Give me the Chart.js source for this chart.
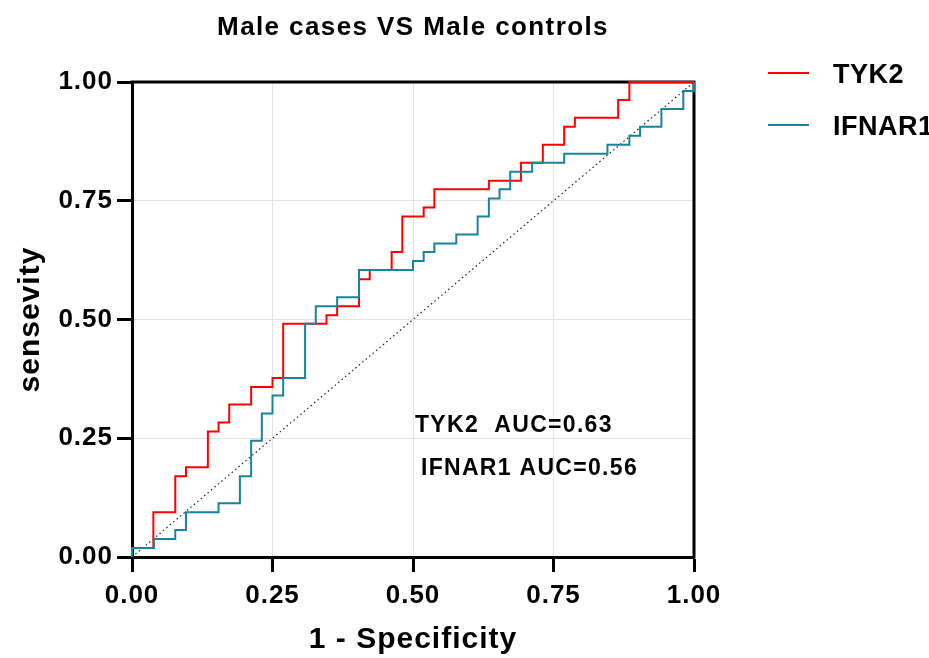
<!DOCTYPE html>
<html>
<head>
<meta charset="utf-8">
<script src="https://cdn.jsdelivr.net/npm/chart.js@4.4.1/dist/chart.umd.min.js"></script>
<style>
  html, body { margin: 0; padding: 0; background: #ffffff; }
  #wrap { width: 929px; height: 658px; position: relative; }
</style>
</head>
<body>
<div id="wrap"><canvas id="c" width="929" height="658"></canvas></div>
<script>
// ---- data ----
const chartTitle = 'Male cases VS Male controls';
const xAxisTitle = '1 - Specificity';
const yAxisTitle = 'sensevity';
const seriesNames = ['TYK2', 'IFNAR1'];
const seriesColors = ['#ff0000', '#17849c'];
const aucLabels = ['TYK2  AUC=0.63', 'IFNAR1 AUC=0.56'];
const tickLabels = ['0.00', '0.25', '0.50', '0.75', '1.00'];

const tyk2X = [0, 0, 0.038, 0.077, 0.096, 0.135, 0.154, 0.173, 0.212, 0.25, 0.269, 0.346, 0.365, 0.404, 0.423, 0.462, 0.481, 0.519, 0.538, 0.635, 0.692, 0.731, 0.769, 0.788, 0.865, 0.885, 1.0];
const tyk2Y = [0, 0.019, 0.094, 0.17, 0.189, 0.264, 0.283, 0.321, 0.358, 0.377, 0.491, 0.509, 0.528, 0.585, 0.604, 0.642, 0.717, 0.736, 0.774, 0.792, 0.83, 0.868, 0.906, 0.925, 0.962, 1.0, 1.0];

const ifnar1X = [0, 0, 0.039, 0.077, 0.096, 0.154, 0.192, 0.212, 0.231, 0.25, 0.269, 0.308, 0.327, 0.365, 0.404, 0.5, 0.519, 0.538, 0.577, 0.615, 0.635, 0.654, 0.673, 0.712, 0.769, 0.846, 0.885, 0.904, 0.942, 0.981, 1.0];
const ifnar1Y = [0, 0.019, 0.038, 0.057, 0.094, 0.113, 0.17, 0.245, 0.302, 0.34, 0.377, 0.491, 0.528, 0.547, 0.604, 0.623, 0.642, 0.66, 0.679, 0.717, 0.755, 0.774, 0.811, 0.83, 0.849, 0.868, 0.887, 0.906, 0.943, 0.981, 1.0];

const refX = [0, 1];
const refY = [0, 1];

const toPts = (xs, ys) => xs.map((x, i) => ({ x: x, y: ys[i] }));
const FONT = '"Liberation Sans", Arial, sans-serif';

const spacingPlugin = {
  id: 'spacing',
  beforeLayout(chart) { chart.ctx.letterSpacing = '1px'; },
  beforeDraw(chart) { chart.ctx.letterSpacing = '1px'; }
};

const decorPlugin = {
  id: 'decor',
  beforeDatasetsDraw(chart) {
    const ctx = chart.ctx;
    const a = chart.chartArea;
    ctx.save();
    ctx.strokeStyle = '#000';
    ctx.lineWidth = 3;
    ctx.beginPath();
    ctx.moveTo(a.left - 1.5, a.top);
    ctx.lineTo(a.right, a.top);
    ctx.lineTo(a.right, a.bottom + 1.5);
    ctx.stroke();
    ctx.restore();
  },
  afterDraw(chart) {
    const ctx = chart.ctx;
    const a = chart.chartArea;
    ctx.save();
    ctx.fillStyle = '#000';
    ctx.letterSpacing = '1.4px';
    ctx.font = 'bold 26px ' + FONT;
    ctx.textAlign = 'center';
    ctx.textBaseline = 'alphabetic';
    ctx.fillText(chartTitle, (a.left + a.right) / 2, 35);
    ctx.letterSpacing = '0.5px';
    ctx.font = 'bold 27px ' + FONT;
    ctx.textAlign = 'left';
    const legY = [73, 125];
    seriesNames.forEach((n, i) => {
      ctx.strokeStyle = seriesColors[i];
      ctx.lineWidth = 2;
      ctx.beginPath();
      ctx.moveTo(768, legY[i]);
      ctx.lineTo(809, legY[i]);
      ctx.stroke();
      ctx.fillText(n, 833, legY[i] + 10);
    });
    ctx.letterSpacing = '1.3px';
    ctx.font = 'bold 23px ' + FONT;
    ctx.fillText(aucLabels[0], 415, 432);
    ctx.fillText(aucLabels[1], 421, 475);
    ctx.restore();
  }
};

const tickFont = { family: FONT, size: 26, weight: 'bold' };
const titleFont = { family: FONT, size: 30, weight: 'bold' };

const canvas = document.getElementById('c');
new Chart(canvas, {
  type: 'scatter',
  data: {
    datasets: [
      { label: seriesNames[1], data: toPts(ifnar1X, ifnar1Y), showLine: true, stepped: 'before',
        borderColor: seriesColors[1], borderWidth: 2, pointRadius: 0, order: 0, clip: 4 },
      { label: seriesNames[0], data: toPts(tyk2X, tyk2Y), showLine: true, stepped: 'before',
        borderColor: seriesColors[0], borderWidth: 2, pointRadius: 0, order: 1, clip: 4 },
      { label: 'ref', data: toPts(refX, refY), showLine: true,
        borderColor: '#222', borderWidth: 1.2, borderDash: [1.5, 3], pointRadius: 0, order: 2 }
    ]
  },
  options: {
    responsive: false,
    animation: false,
    devicePixelRatio: 1,
    layout: { padding: { top: 82, right: 235, left: 0, bottom: 0 } },
    plugins: { legend: { display: false }, tooltip: { enabled: false }, title: { display: false } },
    scales: {
      x: {
        type: 'linear', min: 0, max: 1,
        afterFit: (s) => { s.height = 101; },
        afterBuildTicks: (s) => { s.ticks = tickLabels.map(t => ({ value: parseFloat(t) })); },
        ticks: { font: tickFont, color: '#000', padding: 8, maxRotation: 0,
          callback: (v, i) => tickLabels[i] },
        grid: { color: '#e3e3e3', lineWidth: 1, tickColor: '#000', tickWidth: 3, tickLength: 15 },
        border: { display: true, color: '#000', width: 3 },
        title: { display: true, text: xAxisTitle, font: titleFont, color: '#000', padding: { top: 0, bottom: 0 } }
      },
      y: {
        type: 'linear', min: 0, max: 1,
        afterFit: (s) => { s.width = 132; },
        afterBuildTicks: (s) => { s.ticks = tickLabels.map(t => ({ value: parseFloat(t) })); },
        ticks: { font: tickFont, color: '#000', padding: 4,
          callback: (v, i) => tickLabels[i] },
        grid: { color: '#e3e3e3', lineWidth: 1, tickColor: '#000', tickWidth: 3, tickLength: 15 },
        border: { display: true, color: '#000', width: 3 },
        title: { display: true, text: yAxisTitle, font: titleFont, color: '#000', padding: { top: 13, bottom: 0 } }
      }
    }
  },
  plugins: [spacingPlugin, decorPlugin]
});
</script>
</body>
</html>
